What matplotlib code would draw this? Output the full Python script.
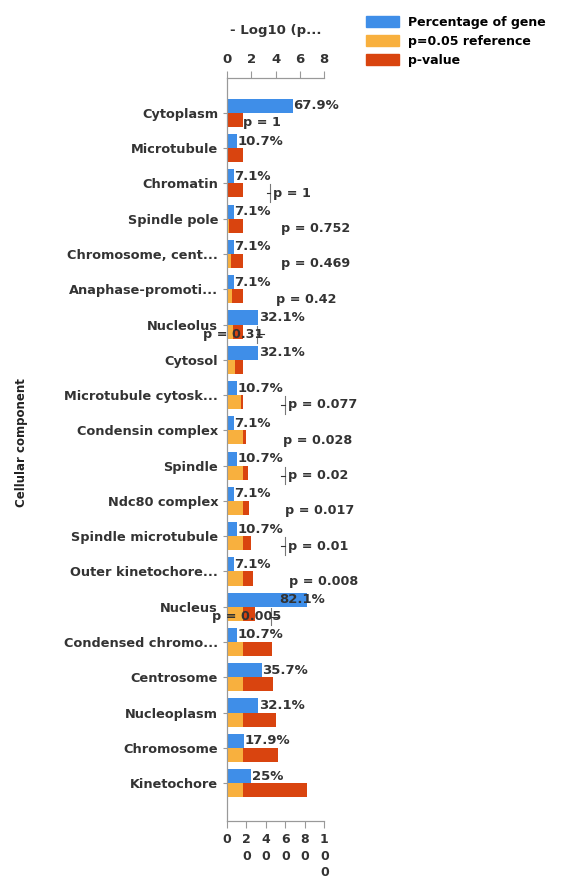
import numpy as np
from matplotlib import pyplot as plt
from matplotlib.patches import Patch

# 细胞组分类别（自上而下）
categories = ["Cytoplasm", "Microtubule", "Chromatin", "Spindle pole",
              "Chromosome, cent...", "Anaphase-promoti...", "Nucleolus", "Cytosol",
              "Microtubule cytosk...", "Condensin complex", "Spindle", "Ndc80 complex",
              "Spindle microtubule", "Outer kinetochore...", "Nucleus",
              "Condensed chromo...", "Centrosome", "Nucleoplasm", "Chromosome",
              "Kinetochore"]

# 基因百分比
percent = [67.9, 10.7, 7.1, 7.1, 7.1, 7.1, 32.1, 32.1, 10.7, 7.1,
           10.7, 7.1, 10.7, 7.1, 82.1, 10.7, 35.7, 32.1, 17.9, 25]
percent_labels = ["67.9%", "10.7%", "7.1%", "7.1%", "7.1%", "7.1%", "32.1%", "32.1%",
                  "10.7%", "7.1%", "10.7%", "7.1%", "10.7%", "7.1%", "82.1%", "10.7%",
                  "35.7%", "32.1%", "17.9%", "25%"]

# -log10(p)
neg_log_p = [0.0, 0.0, 0.0, 0.124, 0.329, 0.377, 0.509, 0.64, 1.11, 1.55,
             1.70, 1.77, 2.0, 2.1, 2.3, 3.72, 3.8, 4.05, 4.19, 6.6]
p_labels = ["p = 1", None, "p = 1", "p = 0.752", "p = 0.469", "p = 0.42", "p = 0.31",
            None, "p = 0.077", "p = 0.028", "p = 0.02", "p = 0.017", "p = 0.01",
            "p = 0.008", "p = 0.005", None, None, None, None, None]

# p=0.05 参考线
ref = -np.log10(0.05)

top_ticks = [0, 2, 4, 6, 8]
bottom_ticks = [0, 20, 40, 60, 80, 100]
bottom_tick_labels = ["0", "2\n0", "4\n0", "6\n0", "8\n0", "1\n0\n0"]

c_blue = '#3f8ee8'
c_orange = '#f8b03e'
c_red = '#d9440f'
c_text = '#333333'

plt.rcParams['font.family'] = ['DejaVu Sans']
plt.rcParams['font.weight'] = 'bold'

fig = plt.figure(figsize=(5.62, 8.85), dpi=100)
ax = fig.add_axes([0.404, 0.072, 0.173, 0.84])
ax2 = ax.twiny()

y = np.arange(len(categories))
h = 0.4

# 百分比柱
ax.barh(y - h / 2, percent, height=h, color=c_blue)
for i in range(len(categories)):
    if percent[i] > 75:
        ax.text(101, y[i] - h / 2, percent_labels[i], ha='right', va='center',
                fontsize=9.5, fontweight='bold', color=c_text)
    else:
        ax.text(percent[i] + 0.5, y[i] - h / 2, percent_labels[i], ha='left', va='center',
                fontsize=9.5, fontweight='bold', color=c_text)

# p值柱：红色在后，橙色在前
red_w = [max(v, ref) for v in neg_log_p]
orange_w = [min(v, ref) for v in neg_log_p]
ax2.barh(y + h / 2, red_w, height=h, color=c_red)
ax2.barh(y + h / 2, orange_w, height=h, color=c_orange)

# p 标签位置（顶轴单位）
p_x = [1.3, 0, 3.8, 4.4, 4.4, 4.0, 0.5, 0, 5.0, 4.6, 5.0, 4.8, 5.0, 5.1, 1.6]
p_ha = ['left', 'left', 'left', 'left', 'left', 'left', 'center', 'left', 'left',
        'left', 'left', 'left', 'left', 'left', 'center']
leaders = {2: 'left', 8: 'left', 10: 'left', 12: 'left', 6: 'right', 14: 'right'}
for i, lab in enumerate(p_labels):
    if lab is None:
        continue
    yy = y[i] + 0.28
    ax2.text(p_x[i], yy, lab, ha=p_ha[i], va='center', fontsize=9.2,
             fontweight='bold', color=c_text)
    if i in leaders:
        if leaders[i] == 'left':
            ax2.plot([p_x[i] - 0.25, p_x[i] - 0.25], [yy - 0.25, yy + 0.25], color='#777777', lw=0.8)
            ax2.plot([p_x[i] - 0.55, p_x[i] - 0.25], [yy, yy], color=c_text, lw=0.8)
        else:
            xr = p_x[i] + 2.0
            ax2.plot([xr, xr], [yy - 0.25, yy + 0.25], color='#777777', lw=0.8)
            ax2.plot([xr, xr + 0.5], [yy, yy], color=c_text, lw=0.8)

ax.set_ylim(len(categories) - 1 + 1.08, -0.99)
ax.set_yticks(y)
ax.set_yticklabels(categories, fontsize=9.3, fontweight='bold', color=c_text)
ax.set_xlim(0, 100)
ax.set_xticks(bottom_ticks)
ax.set_xticklabels(bottom_tick_labels, fontsize=9, fontweight='bold', color=c_text,
                   linespacing=1.35, va='top')
ax2.set_xlim(0, 8)
ax2.set_xticks(top_ticks)
ax2.set_xticklabels([str(t) for t in top_ticks], fontsize=9.5, fontweight='bold', color=c_text)

for a in (ax, ax2):
    a.spines['right'].set_visible(False)
    for s in ('left', 'top', 'bottom'):
        a.spines[s].set_color('#999999')
    a.tick_params(colors='#999999', labelcolor=c_text, length=5, width=0.8)
ax.tick_params(axis='y', length=3)

ax.set_ylabel('Cellular component', fontsize=8.5, fontweight='bold', color='#222222')
ax.yaxis.set_label_coords(-2.05, 0.51)
ax2.set_xlabel('- Log10 (p...', fontsize=9.5, fontweight='bold', color=c_text, labelpad=14)

handles = [Patch(color=c_blue), Patch(color=c_orange), Patch(color=c_red)]
fig.legend(handles, ['Percentage of gene', 'p=0.05 reference', 'p-value'],
           loc='upper left', bbox_to_anchor=(0.632, 0.995), frameon=False,
           handlelength=2.6, handleheight=1.0, labelspacing=0.5,
           handletextpad=0.7, prop={'weight': 'bold', 'size': 9})

plt.savefig('out.png', dpi=100)
